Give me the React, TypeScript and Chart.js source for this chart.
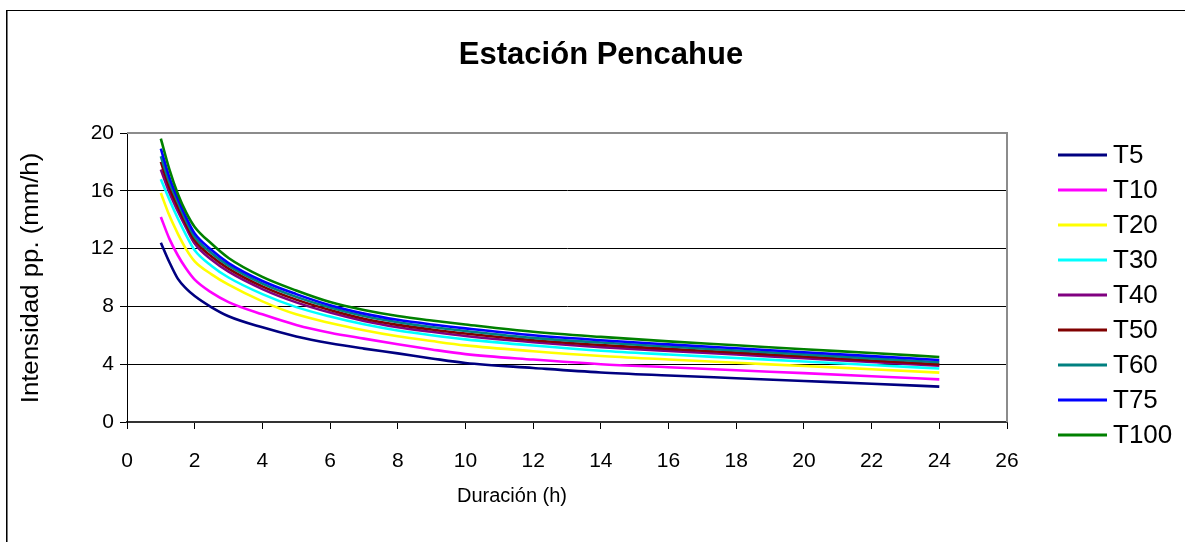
import { useEffect, useRef } from "react";
import { Chart, registerables } from "chart.js";

Chart.register(...registerables);

// Duration (h) of each sample
const durations = [1, 1.25, 1.5, 1.75, 2, 2.5, 3, 4, 5, 6, 7, 8, 9, 10, 12, 14, 16, 18, 20, 22, 24];

// Rainfall intensity (mm/h) for each return period
const t5 = [12.41, 11.07, 9.92, 9.23, 8.72, 7.94, 7.32, 6.55, 5.92, 5.45, 5.08, 4.75, 4.4, 4.08, 3.74, 3.43, 3.22, 3.03, 2.84, 2.65, 2.45];
const t10 = [14.19, 12.69, 11.54, 10.6, 9.85, 8.95, 8.3, 7.45, 6.72, 6.18, 5.77, 5.38, 5.02, 4.7, 4.32, 4.0, 3.79, 3.58, 3.38, 3.17, 2.95];
const t20 = [15.85, 14.3, 13.04, 11.95, 11.12, 10.22, 9.5, 8.35, 7.45, 6.85, 6.35, 5.93, 5.6, 5.3, 4.9, 4.57, 4.33, 4.1, 3.88, 3.65, 3.42];
const t30 = [16.8, 15.4, 14.1, 12.92, 11.88, 10.8, 10.0, 8.85, 7.95, 7.3, 6.76, 6.33, 6.0, 5.72, 5.29, 4.93, 4.67, 4.43, 4.19, 3.94, 3.7];
const t40 = [17.47, 15.9, 14.6, 13.43, 12.35, 11.22, 10.4, 9.2, 8.28, 7.57, 6.99, 6.56, 6.24, 5.95, 5.52, 5.18, 4.92, 4.67, 4.41, 4.16, 3.9];
const t50 = [18.0, 16.25, 14.9, 13.66, 12.57, 11.45, 10.62, 9.39, 8.47, 7.75, 7.15, 6.72, 6.4, 6.12, 5.66, 5.33, 5.06, 4.8, 4.53, 4.26, 3.99];
const t60 = [18.39, 16.6, 15.23, 13.91, 12.8, 11.68, 10.82, 9.58, 8.66, 7.92, 7.33, 6.9, 6.57, 6.3, 5.82, 5.5, 5.22, 4.95, 4.68, 4.4, 4.13];
const t75 = [18.92, 16.95, 15.46, 14.14, 13.04, 11.9, 11.0, 9.76, 8.85, 8.08, 7.5, 7.07, 6.75, 6.48, 6.0, 5.66, 5.37, 5.1, 4.83, 4.56, 4.29];
const t100 = [19.61, 17.5, 15.8, 14.49, 13.5, 12.33, 11.35, 10.04, 9.1, 8.3, 7.75, 7.33, 7.02, 6.75, 6.25, 5.89, 5.58, 5.31, 5.03, 4.78, 4.5];

const seriesLabels = ["T5", "T10", "T20", "T30", "T40", "T50", "T60", "T75", "T100"];
const seriesValues = [t5, t10, t20, t30, t40, t50, t60, t75, t100];
const seriesColors = ["#000080", "#FF00FF", "#FFFF00", "#00FFFF", "#800080", "#800000", "#008080", "#0000FF", "#008000"];

const chartTitle = "Estación Pencahue";
const xTitle = "Duración (h)";
const yTitle = "Intensidad pp. (mm/h)";

const W = 1185;
const H = 542;
const FONT = '"Liberation Sans", Arial, Helvetica, sans-serif';

// Titles, plot frame and the legend are painted directly on the canvas
const decorations = {
  id: "decorations",
  beforeDatasetsDraw(chart: any) {
    const { ctx, chartArea } = chart;
    const { left, right, top, bottom } = chartArea;
    ctx.save();
    ctx.strokeStyle = "#8c8c8c";
    ctx.lineWidth = 2;
    ctx.beginPath();
    ctx.moveTo(left, top);
    ctx.lineTo(right, top);
    ctx.lineTo(right, bottom);
    ctx.stroke();
    ctx.restore();
  },
  afterDraw(chart: any) {
    const { ctx } = chart;
    ctx.save();
    ctx.fillStyle = "#000";
    ctx.textAlign = "center";
    ctx.textBaseline = "alphabetic";
    ctx.font = `bold 31px ${FONT}`;
    ctx.fillText(chartTitle, 601, 64);

    ctx.font = `20px ${FONT}`;
    ctx.fillText(xTitle, 512, 502);

    ctx.save();
    ctx.translate(38, 278);
    ctx.rotate(-Math.PI / 2);
    ctx.scale(1.12, 1);
    ctx.font = `23px ${FONT}`;
    ctx.textBaseline = "alphabetic";
    ctx.fillText(yTitle, 0, 0);
    ctx.restore();

    // legend
    const startY = 155;
    const step = 35;
    ctx.textAlign = "left";
    ctx.textBaseline = "middle";
    ctx.font = `26px ${FONT}`;
    chart.data.datasets.forEach((ds: any, i: number) => {
      const y = startY + i * step;
      ctx.strokeStyle = ds.borderColor;
      ctx.lineWidth = 3;
      ctx.beginPath();
      ctx.moveTo(1058, y);
      ctx.lineTo(1107, y);
      ctx.stroke();
      ctx.fillStyle = "#000";
      ctx.fillText(ds.label, 1113, y + 1);
    });
    ctx.restore();
  },
};

export default function App() {
  const canvasRef = useRef<HTMLCanvasElement>(null);

  useEffect(() => {
    const canvas = canvasRef.current;
    if (!canvas) return;
    Chart.defaults.font.family = FONT;

    const datasets = seriesLabels.map((label, i) => ({
      label,
      data: durations.map((d, j) => ({ x: d, y: seriesValues[i][j] })),
      borderColor: seriesColors[i],
      backgroundColor: seriesColors[i],
      borderWidth: 2.6,
      pointRadius: 0,
      fill: false,
      cubicInterpolationMode: "monotone" as const,
      order: seriesLabels.length - i,
    }));

    const chart = new Chart(canvas, {
      type: "line",
      data: { datasets },
      plugins: [decorations],
      options: {
        responsive: false,
        animation: false,
        devicePixelRatio: 1,
        layout: { padding: { left: 0, top: 133, right: 178, bottom: 0 } },
        plugins: {
          legend: { display: false },
          title: { display: false },
          tooltip: { enabled: false },
        },
        scales: {
          x: {
            type: "linear",
            min: 0,
            max: 26,
            afterFit: (s: any) => {
              s.height = 120;
            },
            ticks: {
              stepSize: 2,
              color: "#000",
              font: { size: 21 },
              padding: 20,
              maxRotation: 0,
              autoSkip: false,
            },
            grid: { drawOnChartArea: false, tickLength: 7, color: "#000", lineWidth: 1 },
            border: { color: "#333", width: 2 },
          },
          y: {
            type: "linear",
            min: 0,
            max: 20,
            afterFit: (s: any) => {
              s.width = 127;
            },
            ticks: {
              stepSize: 4,
              color: "#000",
              font: { size: 21 },
              padding: 6,
            },
            grid: {
              color: (c: any) => (c.tick && c.tick.value === 20 ? "rgba(0,0,0,0)" : "#000"),
              tickColor: "#000",
              tickLength: 7,
              lineWidth: 1,
            },
            border: { color: "#000", width: 1 },
          },
        },
      },
    });

    return () => chart.destroy();
  }, []);

  return (
    <div
      style={{
        position: "fixed",
        left: 0,
        top: 0,
        width: W,
        height: H,
        background: "#fff",
        overflow: "hidden",
      }}
    >
      <div
        style={{
          position: "absolute",
          left: 6,
          top: 10,
          width: 1400,
          height: 800,
          borderLeft: "1px solid #000",
          borderTop: "1px solid #000",
          boxShadow: "inset 1px 0 0 #777",
        }}
      />
      <canvas
        ref={canvasRef}
        width={W}
        height={H}
        style={{ position: "absolute", left: 0, top: 0, width: W, height: H }}
      />
    </div>
  );
}
